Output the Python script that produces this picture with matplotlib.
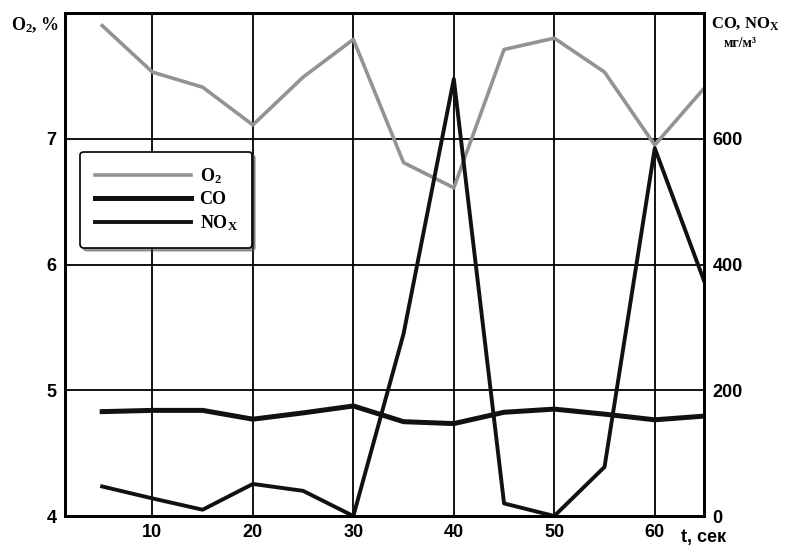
import numpy as np
import matplotlib
matplotlib.use("Agg")
import matplotlib.pyplot as plt

# values
t = [5, 10, 15, 20, 25, 30, 35, 40, 45, 50, 55, 60, 65]
o2 = [7.9, 7.53, 7.41, 7.11, 7.49, 7.79, 6.81, 6.61, 7.71, 7.8, 7.53, 6.95, 7.41]
co = [166, 168, 168, 154, 164, 175, 150, 147, 165, 170, 162, 153, 159]
nox = [47, 28, 10, 51, 40, 0, 290, 695, 20, 0, 78, 585, 370]

x_ticks = [10, 20, 30, 40, 50, 60]
o2_ticks = [4, 5, 6, 7]
gas_ticks = [0, 200, 400, 600]

serif = "Liberation Serif"
sans = "Liberation Sans"
plt.rcParams["mathtext.fontset"] = "custom"
plt.rcParams["mathtext.rm"] = "Liberation Serif:bold"
plt.rcParams["mathtext.it"] = "Liberation Serif:bold"
plt.rcParams["mathtext.bf"] = "Liberation Serif:bold"

fig = plt.figure(figsize=(7.85, 5.51), dpi=100)
ax = fig.add_axes([0.0828, 0.0635, 0.814, 0.9129])
ax2 = ax.twinx()

ax.set_xlim(1.3, 64.9)
ax.set_ylim(4, 8)
ax2.set_ylim(0, 800)

ax.set_xticks(x_ticks)
ax.set_yticks(o2_ticks)
ax2.set_yticks(gas_ticks)
ax.grid(True, color="black", lw=1.3)
ax.set_axisbelow(True)

for a in (ax, ax2):
    a.tick_params(length=0, labelsize=13, pad=6)
    for s in a.spines.values():
        s.set_linewidth(2)
    for lab in a.get_xticklabels() + a.get_yticklabels():
        lab.set_fontfamily(sans)
        lab.set_fontweight("bold")

l1, = ax.plot(t, o2, color="#939393", lw=2.6)
l2, = ax2.plot(t, co, color="#111111", lw=3.6)
l3, = ax2.plot(t, nox, color="#111111", lw=2.8)

leg = ax2.legend(handles=[l1, l2, l3],
                 labels=["O$_\\mathregular{2}$", "CO", "NO$_\\mathregular{X}$"],
                 loc="upper left", bbox_to_anchor=(0.01, 0.742),
                 fancybox=True, shadow=True, handlelength=5.3, handletextpad=0.5,
                 labelspacing=0.3, borderpad=0.8, framealpha=1, edgecolor="black",
                 prop={"family": serif, "size": 13, "weight": "bold"})
leg.get_frame().set_linewidth(1.2)

fig.text(0.014, 0.955, "O$_\\mathregular{2}$, %", family=serif, fontsize=13, weight="bold",
         ha="left", va="center")
fig.text(0.949, 0.957, "CO, NO$_\\mathregular{X}$", family=serif, fontsize=12, weight="bold",
         ha="center", va="center")
fig.text(0.943, 0.921, "мг/м³", family=serif, fontsize=10, weight="bold", ha="center", va="center")
fig.text(0.868, 0.024, "t, сек", family=sans, fontsize=13, weight="bold", ha="left", va="center")

fig.savefig("out.png", dpi=100)
